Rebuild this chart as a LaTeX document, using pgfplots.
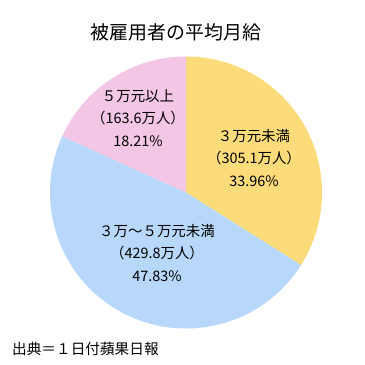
\documentclass[border=0pt]{standalone}
\usepackage{pgfplots}
\pgfplotsset{compat=1.18}
\usepackage{fontspec}
\setmainfont{Noto Sans CJK JP}
\definecolor{cyel}{RGB}{252,219,122}
\definecolor{cblue}{RGB}{183,216,250}
\definecolor{cpink}{RGB}{242,198,228}
\begin{document}
\begin{tikzpicture}
\begin{axis}[width=365bp,height=365bp,scale only axis,hide axis,
  xmin=0,xmax=365,ymin=0,ymax=365,clip=false]
\path (rel axis cs:0,0) rectangle (rel axis cs:1,1);
% shares in percent
\pgfmathsetmacro\pa{33.96}
\pgfmathsetmacro\pb{47.83}
\pgfmathsetmacro\pc{18.21}
\pgfmathsetmacro\aa{90}
\pgfmathsetmacro\ab{90-\pa*3.6}
\pgfmathsetmacro\ac{\ab-\pb*3.6}
\pgfmathsetmacro\ad{\ac-\pc*3.6}
\fill[cyel] (axis cs:186,172.5) -- ++(\aa:136bp) arc[start angle=\aa, end angle=\ab, radius=136bp] -- cycle;
\fill[cblue] (axis cs:186,172.5) -- ++(\ab:136bp) arc[start angle=\ab, end angle=\ac, radius=136bp] -- cycle;
\fill[cpink] (axis cs:186,172.5) -- ++(\ac:136bp) arc[start angle=\ac, end angle=\ad, radius=136bp] -- cycle;
\node[font=\fontsize{19}{22}\selectfont] at (axis cs:176,333) {被雇用者の平均月給};
\node[align=center,font=\fontsize{14.5}{22.3}\selectfont] at (axis cs:254,207) {３万元未満\\（305.1万人）\\33.96\%};
\node[align=center,font=\fontsize{14.5}{22.3}\selectfont] at (axis cs:138,247) {５万元以上\\（163.6万人）\\18.21\%};
\node[align=center,font=\fontsize{14.5}{22.3}\selectfont] at (axis cs:157,112) {３万～５万元未満\\（429.8万人）\\47.83\%};
\node[anchor=west,inner sep=0pt,font=\fontsize{14.7}{17}\selectfont] at (axis cs:12,16) {出典＝１日付蘋果日報};
\end{axis}
\end{tikzpicture}
\end{document}
